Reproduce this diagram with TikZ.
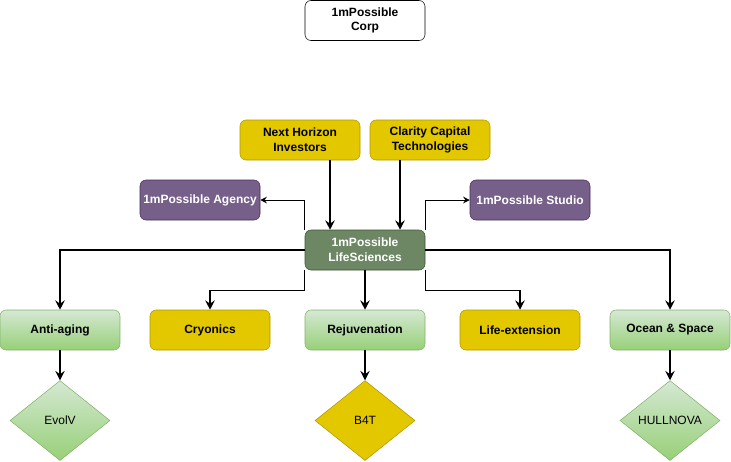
\documentclass[tikz,border=0pt]{standalone}
\usepackage{fontspec}
\setmainfont{Liberation Sans}
\usepackage{xcolor}
\definecolor{goldFill}{HTML}{E3C800}
\definecolor{goldLine}{HTML}{B09500}
\definecolor{mintTop}{HTML}{D5E8D4}
\definecolor{mintBot}{HTML}{97D077}
\definecolor{mintLine}{HTML}{82B366}
\definecolor{plumFill}{HTML}{76608A}
\definecolor{plumLine}{HTML}{432D57}
\definecolor{mossFill}{HTML}{6D8764}
\definecolor{mossLine}{HTML}{3A5431}
\usepackage{tikz}
\usetikzlibrary{arrows.meta, positioning, shapes.geometric, calc}

\begin{document}
\begin{tikzpicture}[
    x=0.75pt, y=-0.75pt,
    box/.style   ={rectangle, rounded corners=4.5pt, minimum height=30pt, minimum width=90pt,
                   align=center, font=\fontsize{9}{11}\selectfont\bfseries, inner sep=1pt},
    corp/.style  ={box, draw=black, fill=white},
    fund/.style  ={box, draw=goldLine, fill=goldFill},
    unit/.style  ={box, draw=mintLine, top color=mintTop, bottom color=mintBot},
    side/.style  ={box, draw=plumLine, fill=plumFill, text=white},
    hub/.style   ={box, draw=mossLine, fill=mossFill, text=white},
    brand/.style ={diamond, aspect=1.25, minimum width=75pt, minimum height=60pt, inner sep=0pt,
                   font=\fontsize{9}{11}\selectfont},
    arrow/.style ={-{Stealth[length=7pt,width=7pt,inset=2.5pt]}, line width=1.1pt},
    thin/.style  ={-{Stealth[length=5pt,width=5pt,inset=1.8pt]}, line width=0.6pt}
]
\useasboundingbox (0,0) rectangle (731,461);

\node[corp] (corp) at (365,20.5) {1mPossible\\Corp};

\node[fund] (horizon) at (300,140) {Next Horizon\\Investors};
\node[fund] (clarity) at (430,140) {Clarity Capital\\Technologies};
\node[side] (agency) at (200,200) {1mPossible Agency};
\node[side] (studio) at (530,200) {1mPossible Studio};
\node[hub] (life) at (365,250) {1mPossible\\LifeSciences};

\node[unit] (anti)  at (60,330)  {Anti-aging};
\node[fund] (cryo)  at (210,330) {Cryonics};
\node[unit] (rejuv) at (365,330) {Rejuvenation};
\node[fund] (ext)   at (520,330) {Life-extension};
\node[unit] (ocean) at (670,330) {Ocean \& Space};

\node[brand, draw=mintLine, top color=mintTop, bottom color=mintBot, below=22.5pt of anti] (evolv) {EvolV};
\node[brand, draw=goldLine, fill=goldFill, below=22.5pt of rejuv] (b4t) {B4T};
\node[brand, draw=mintLine, top color=mintTop, bottom color=mintBot, below=22.5pt of ocean] (hull) {HULLNOVA};

% funding into the hub
\draw[arrow] (horizon.south -| 330,0) -- (life.north -| 330,0);
\draw[arrow] (clarity.south -| 400,0) -- (life.north -| 400,0);

% side companies
\draw[thin] (life.north west) |- (agency.east);
\draw[thin] (life.north east) |- (studio.west);

% divisions
\draw[arrow] (life.west) -| (anti.north);
\draw[arrow] (life.south west) -- ++(0,20) -| (cryo.north);
\draw[arrow] (life.south) -- (rejuv.north);
\draw[arrow] (life.south east) -- ++(0,20) -| (ext.north);
\draw[arrow] (life.east) -| (ocean.north);

% brands
\draw[arrow] (anti) -- (evolv);
\draw[arrow] (rejuv) -- (b4t);
\draw[arrow] (ocean) -- (hull);
\end{tikzpicture}
\end{document}
